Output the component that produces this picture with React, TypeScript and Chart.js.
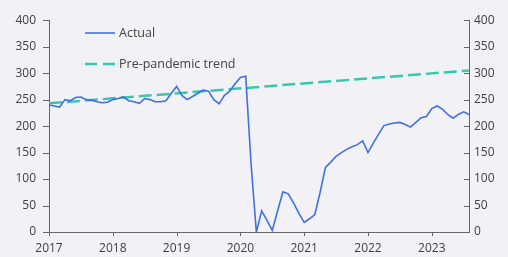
import React, { useEffect, useRef } from "react";
import { Chart, registerables } from "chart.js";

Chart.register(...registerables);

// Monthly data, Jan 2017 .. Aug 2023
const startYear = 2017;
const actualValues = [
  240, 238, 236, 250, 248, 254, 255, 250, 249, 246, 244, 245,
  250, 252, 255, 248, 246, 243, 252, 250, 246, 246, 248, 262,
  275, 258, 250, 256, 262, 268, 266, 250, 242, 258, 266, 280,
  292, 294, 130, 0, 40, 22, 3, 40, 76, 72, 55, 35,
  18, 25, 33, 75, 122, 132, 143, 150, 156, 161, 165, 172,
  150, 168, 185, 201, 204, 206, 207, 203, 198, 207, 216, 218,
  233, 238, 232, 222, 215, 222, 227, 222,
];
const trendYears = [2017, 2017 + 79 / 12];
const trendValues = [243, 305];
const yTickValues = [0, 50, 100, 150, 200, 250, 300, 350, 400];
const xTickYears = [2017, 2018, 2019, 2020, 2021, 2022, 2023];
const legendLabels = ["Actual", "Pre-pandemic trend"];

const BLUE = "#3f70e0";
const TEAL = "#38c6b0";
const AXIS = "#666666";
const TEXT = "#404040";
const BG = "#f2f2f6";
const FONT = "'Open Sans', sans-serif";

export default function App() {
  const ref = useRef<HTMLCanvasElement>(null);

  useEffect(() => {
    const decorations = {
      id: "decorations",
      afterDraw(chart: any) {
        const { ctx, chartArea } = chart;
        const { left, right, bottom } = chartArea;
        const ys = chart.scales.y;
        const xs = chart.scales.x;
        ctx.save();
        ctx.strokeStyle = AXIS;
        ctx.lineWidth = 1;
        ctx.beginPath();
        yTickValues.forEach((v) => {
          const y = Math.round(ys.getPixelForValue(v)) + 0.5;
          ctx.moveTo(left - 6, y);
          ctx.lineTo(left, y);
          ctx.moveTo(right - 5, y);
          ctx.lineTo(right, y);
        });
        xTickYears.forEach((v) => {
          const x = Math.round(xs.getPixelForValue(v)) + 0.5;
          ctx.moveTo(x, bottom);
          ctx.lineTo(x, bottom + 4);
        });
        ctx.stroke();

        // legend
        const lx0 = 85, lx1 = 115, tx = 119;
        const rows = [33, 64];
        ctx.lineWidth = 1.6;
        ctx.strokeStyle = BLUE;
        ctx.setLineDash([]);
        ctx.beginPath();
        ctx.moveTo(lx0, rows[0]);
        ctx.lineTo(lx1, rows[0]);
        ctx.stroke();
        ctx.lineWidth = 2.5;
        ctx.strokeStyle = TEAL;
        ctx.setLineDash([12, 6]);
        ctx.beginPath();
        ctx.moveTo(lx0, rows[1]);
        ctx.lineTo(lx1, rows[1]);
        ctx.stroke();
        ctx.setLineDash([]);
        ctx.fillStyle = TEXT;
        ctx.font = `12.5px ${FONT}`;
        ctx.textBaseline = "middle";
        ctx.textAlign = "left";
        ctx.fillText(legendLabels[0], tx, rows[0]);
        ctx.fillText(legendLabels[1], tx, rows[1]);
        ctx.restore();
      },
    };

    const tickFont = { family: FONT, size: 12 };
    const yAxis = (position: "left" | "right", width: number, padding: number) => ({
      type: "linear" as const,
      position,
      min: 0,
      max: 400,
      afterBuildTicks: (s: any) => {
        s.ticks = yTickValues.map((v) => ({ value: v }));
      },
      grid: { display: false, drawTicks: false },
      border: { display: true, color: AXIS, width: 1 },
      ticks: { padding, font: tickFont, color: TEXT },
      afterFit: (s: any) => {
        s.width = width;
      },
    });

    const chart = new Chart(ref.current!, {
      type: "line",
      data: {
        datasets: [
          {
            label: legendLabels[0],
            data: actualValues.map((v, i) => ({ x: startYear + i / 12, y: v })),
            borderColor: BLUE,
            borderWidth: 1.6,
            pointRadius: 0,
            tension: 0,
          },
          {
            label: legendLabels[1],
            data: trendYears.map((x, i) => ({ x, y: trendValues[i] })),
            borderColor: TEAL,
            borderWidth: 2.5,
            borderDash: [13, 5],
            pointRadius: 0,
          },
        ],
      },
      options: {
        animation: false,
        responsive: false,
        maintainAspectRatio: false,
        layout: { padding: { top: 16, left: 0, right: 0, bottom: 0 } },
        plugins: { legend: { display: false }, tooltip: { enabled: false } },
        scales: {
          x: {
            type: "linear",
            min: 2017,
            max: 2017 + 79 / 12,
            afterBuildTicks: (s: any) => {
              s.ticks = xTickYears.map((v) => ({ value: v }));
            },
            grid: { display: false, drawTicks: false },
            border: { display: true, color: AXIS, width: 1 },
            ticks: {
              padding: 9,
              font: tickFont,
              color: TEXT,
              maxRotation: 0,
              autoSkip: false,
              callback: (v: any) => String(v),
            },
            afterFit: (s: any) => {
              s.height = 25;
            },
          },
          y: yAxis("left", 49, 13),
          y2: yAxis("right", 39, 5),
        },
      },
      plugins: [decorations],
    });
    return () => chart.destroy();
  }, []);

  return (
    <div
      style={{
        position: "absolute",
        left: 0,
        top: 0,
        width: 508,
        height: 257,
        background: BG,
      }}
    >
      <canvas ref={ref} width={508} height={257} />
    </div>
  );
}
